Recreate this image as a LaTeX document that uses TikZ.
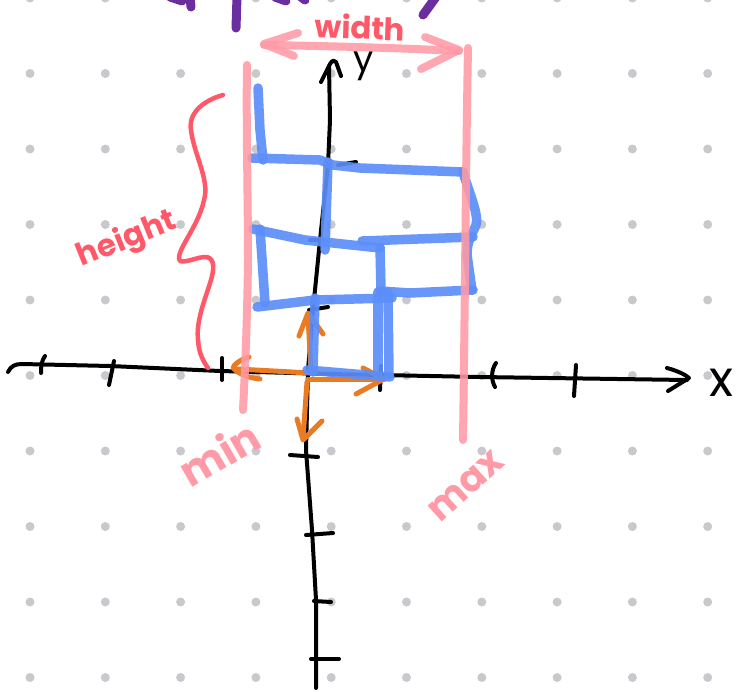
\documentclass[tikz,border=0pt]{standalone}
\usepackage{fontspec}
\setmainfont{Poppins}
\definecolor{dotgray}{HTML}{C9C9CD}
\definecolor{axisblack}{HTML}{000000}
\definecolor{pinkline}{HTML}{FF9AA6}
\definecolor{redink}{HTML}{FF5868}
\definecolor{blueink}{HTML}{5B8EF8}
\definecolor{orangeink}{HTML}{EA7B23}
\definecolor{purpleink}{HTML}{6A2E9E}
\tikzset{
  dotstyle/.style={fill=dotgray, draw=none},
  axisline/.style={draw=axisblack, line width=4pt, line cap=round, line join=round},
  pinkstroke/.style={draw=pinkline, line width=8pt, line cap=round, line join=round, opacity=0.88},
  redstroke/.style={draw=redink, line width=4.5pt, line cap=round, line join=round},
  bluestroke/.style={draw=blueink, line width=9.5pt, line cap=round, line join=round, opacity=0.92},
  orangestroke/.style={draw=orangeink, line width=5pt, line cap=round, line join=round},
  purplestroke/.style={draw=purpleink, line width=9pt, line cap=round, line join=round},
  redlabel/.style={text=redink, font=\bfseries\fontsize{31}{31}\selectfont},
  pinklabel/.style={text=pinkline, font=\bfseries\fontsize{42}{42}\selectfont},
  axislabel/.style={text=black, font=\fontsize{36}{36}\selectfont}
}
\begin{document}
\begin{tikzpicture}[x=1pt, y=-1pt]
\useasboundingbox (0,0) rectangle (738,691);
% dot grid
\foreach \i in {0,...,9} {
  \foreach \j in {0,...,9} {
    \fill[dotstyle] ({30+75.3*\i},{-2+75.5*\j}) circle (4.5pt);
  }
}
% purple cut-off title strokes
\draw[purplestroke] (170,-3) -- (182,1);
\draw[purplestroke] (190,-3) -- (191,7);
\draw[purplestroke] (237,-3) -- (236,28);
\draw[purplestroke] (275,-3) -- (286,1);
\draw[purplestroke] (301,-3) -- (305,0);
\draw[purplestroke] (436,-3) -- (423,15);
% x axis
\draw[axisline] (8,372) .. controls (11,366) and (15,364) .. (22,364) -- (110,366) -- (220,371) -- (330,374) -- (480,377) -- (687,380);
\draw[axisline] (667,368) .. controls (678,371) and (686,375) .. (689,378) -- (668,391);
% x ticks
\draw[axisline] (45,356) .. controls (42,360) and (41,365) .. (41,373);
\draw[axisline] (114,361) -- (109,385);
\draw[axisline] (222,358) -- (222,380);
\draw[axisline] (381,366) -- (380,390);
\draw[axisline] (496,363) .. controls (491,370) and (491,380) .. (495,387);
\draw[axisline] (576,365) -- (574,396);
% y axis
\draw[axisline] (316,688) -- (316,600) -- (312,530) -- (306,450) -- (308,370) -- (313,310) -- (320,240) -- (328,165) -- (330,120) -- (329,66);
\draw[axisline] (321,82) -- (330,64) .. controls (332,60) and (335,60) .. (336,62) -- (341,76);
% y ticks
\draw[axisline] (290,455) -- (318,457);
\draw[axisline] (306,535) -- (333,533);
\draw[axisline] (314,601) -- (331,602);
\draw[axisline] (311,659) -- (339,659);
\draw[axisline] (338,165) -- (356,162);
\draw[axisline] (310,240) -- (322,240);
\draw[axisline] (309,310) -- (328,307);
% axis labels
\node[axislabel] (ylabel) at (364,66) {y};
\node[axislabel, font=\fontsize{50}{50}\selectfont] (xlabel) at (721,383) {x};
% height brace
\draw[redstroke] (223,95) .. controls (205,100) and (188,112) .. (191,130) .. controls (194,155) and (210,180) .. (204,200) .. controls (199,225) and (178,248) .. (179,259) .. controls (180,266) and (198,256) .. (207,257) .. controls (215,259) and (214,270) .. (211,280) .. controls (205,300) and (196,320) .. (198,340) .. controls (199,355) and (204,362) .. (208,368);
\node[redlabel, rotate=22] (heightlabel) at (127,240) {height};
\node[redlabel, rotate=-2] (widthlabel) at (360,27) {width};
% orange arrows
\draw[orangestroke] (310,373) -- (237,369);
\draw[orangestroke] (249,357) .. controls (240,360) and (234,364) .. (233,368) .. controls (240,375) and (250,378) .. (260,379);
\draw[orangestroke] (308,379) -- (384,379);
\draw[orangestroke] (363,368) -- (384,379) -- (356,394);
\draw[orangestroke] (307,382) -- (303,438);
\draw[orangestroke] (297,419) -- (303,440) -- (322,421);
\draw[orangestroke] (311,372) -- (308,316);
\draw[orangestroke] (299,336) -- (308,313) -- (323,334);
% blue boxes
\draw[bluestroke] (258,88) -- (260,130) -- (263,160);
\draw[bluestroke] (252,158) -- (320,160) -- (333,165) -- (360,168) -- (463,172);
\draw[bluestroke] (463,172) .. controls (470,195) and (479,215) .. (476,225) .. controls (472,235) and (467,240) .. (467,255) -- (472,290);
\draw[bluestroke] (253,229) -- (305,240) -- (380,248);
\draw[bluestroke] (362,241) -- (473,237);
\draw[bluestroke] (260,229) -- (265,303);
\draw[bluestroke] (257,307) -- (315,300) -- (392,298);
\draw[bluestroke] (380,291) -- (410,293) -- (473,290);
\draw[bluestroke] (328,162) -- (325,250);
\draw[bluestroke] (315,298) -- (313,372);
\draw[bluestroke] (380,247) -- (381,290);
\draw[bluestroke] (378,292) -- (378,372);
\draw[bluestroke] (388,292) -- (389,375);
\draw[bluestroke] (307,370) -- (390,377);
% pink bounds
\draw[pinkstroke] (247,65) .. controls (246,120) and (248,200) .. (248,260) .. controls (247,330) and (245,370) .. (243,410);
\draw[pinkstroke] (468,48) .. controls (466,150) and (465,300) .. (463,440);
\draw[pinkstroke] (264,45) .. controls (330,46) and (400,48) .. (459,51);
\draw[pinkstroke] (298,33) -- (264,44) -- (294,56);
\draw[pinkstroke] (425,37) -- (459,50) -- (421,69);
\node[pinklabel, rotate=30] (minlabel) at (219,453) {min};
\node[pinklabel, rotate=42, font=\bfseries\fontsize{38}{38}\selectfont] (maxlabel) at (466,486) {max};
\end{tikzpicture}
\end{document}
